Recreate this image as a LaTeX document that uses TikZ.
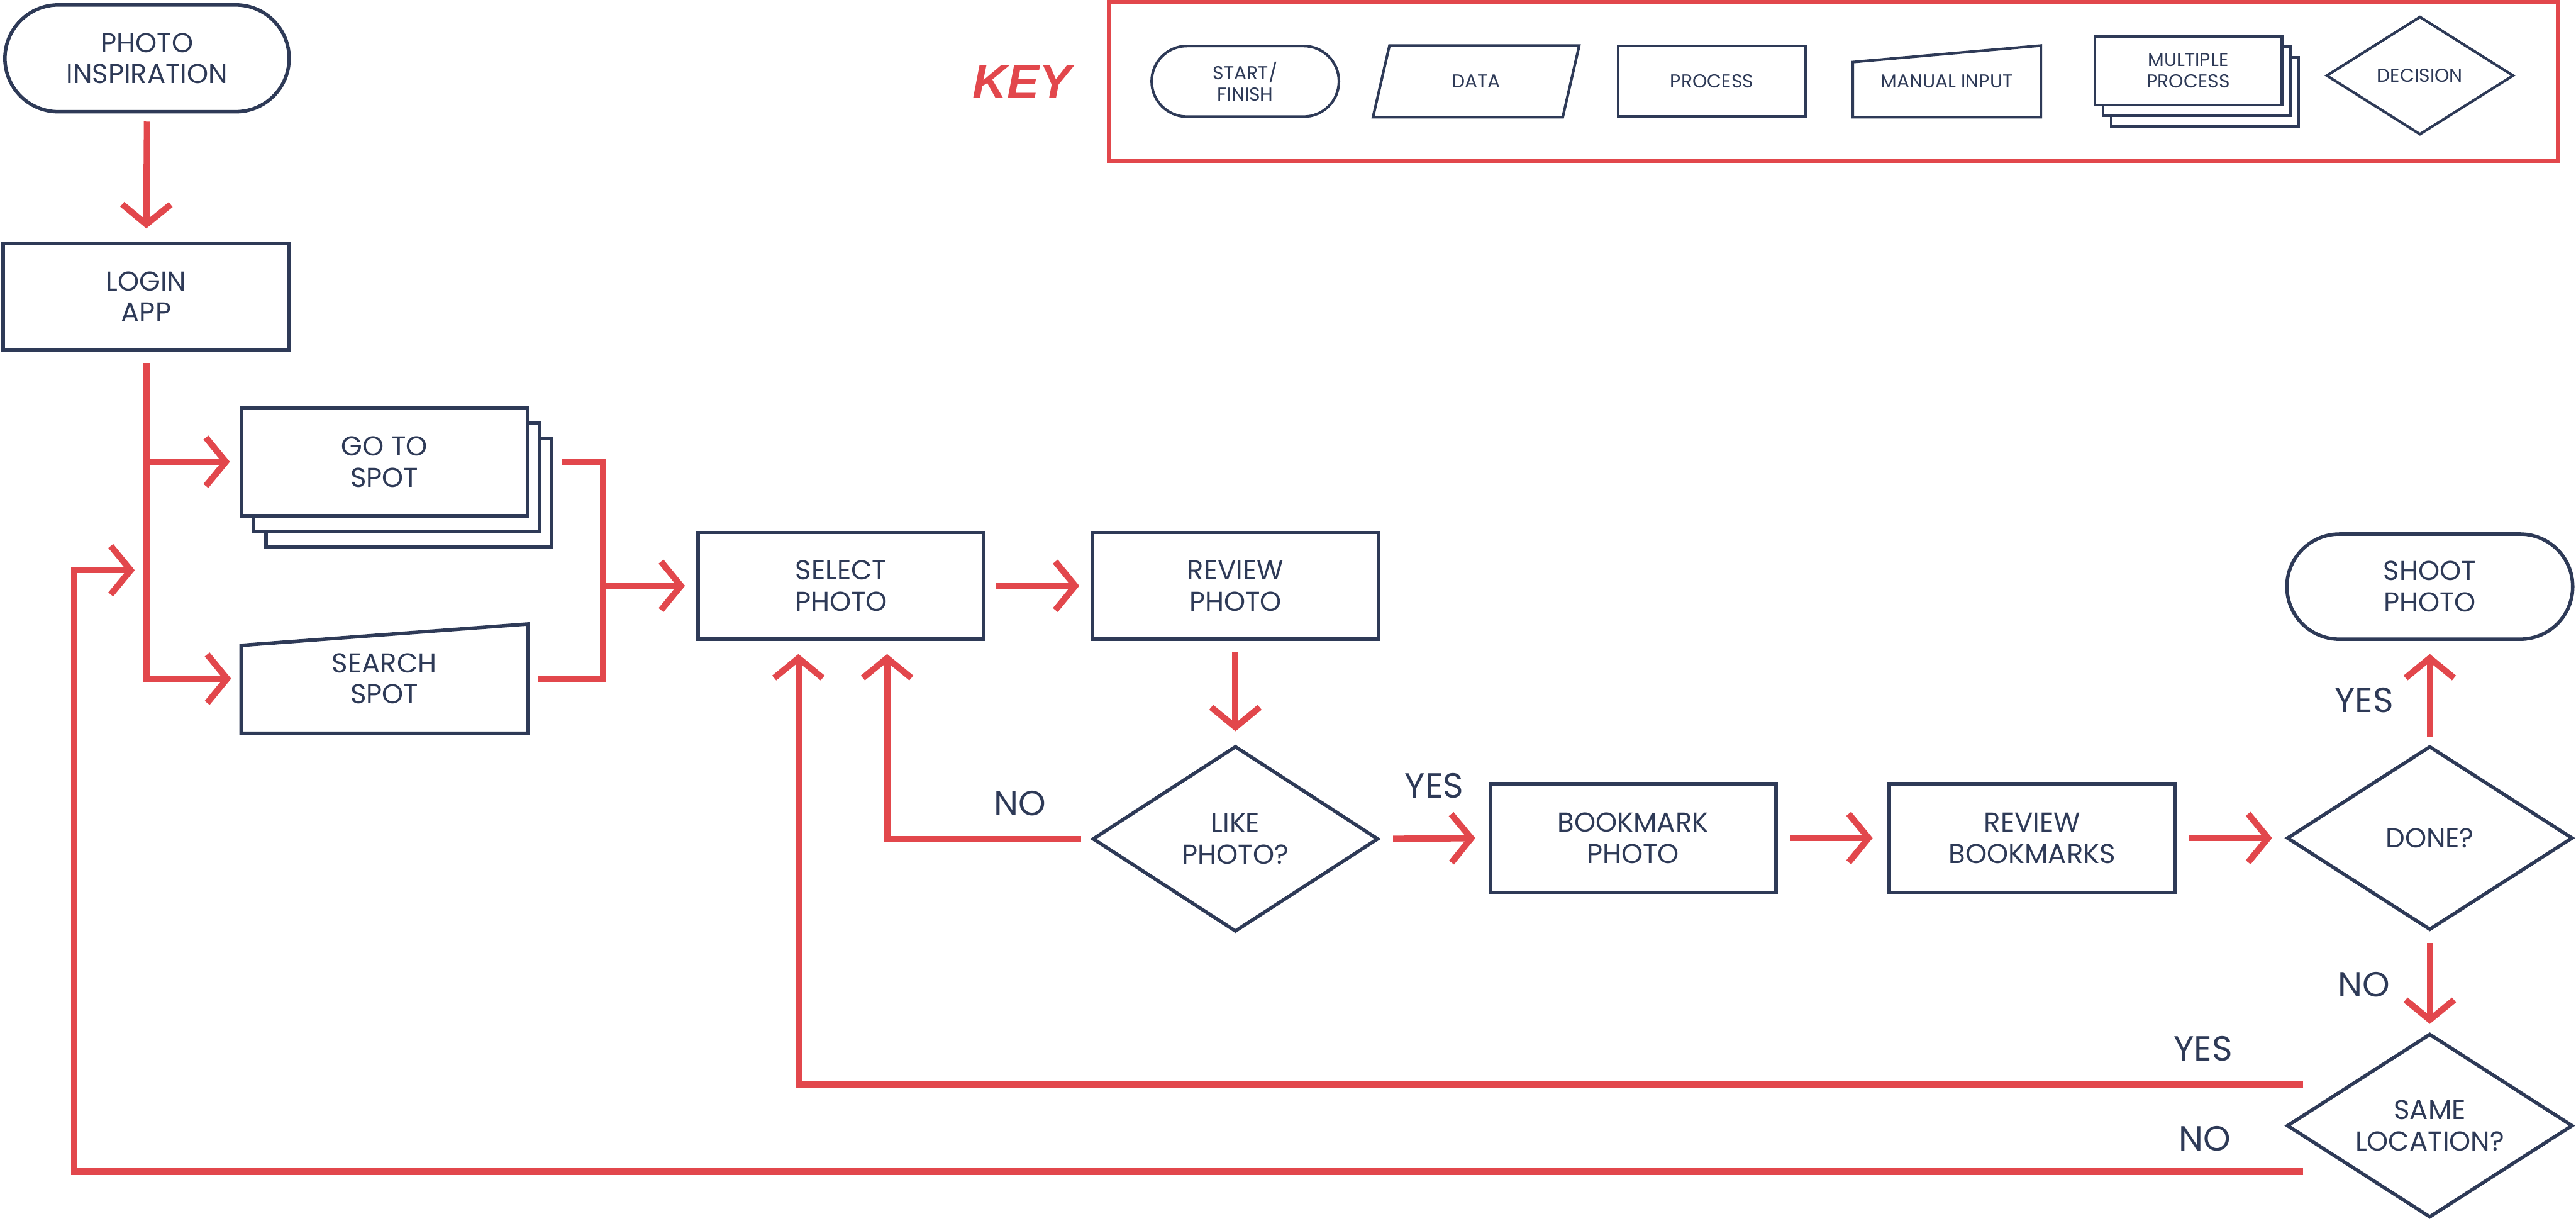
\documentclass[tikz,border=0pt]{standalone}
\usepackage{fontspec}
\setmainfont{Poppins}
\newfontfamily\keyfont{Liberation Sans}
\usetikzlibrary{arrows.meta,shapes.geometric,shapes.misc,shadows,calc}
\definecolor{navy}{HTML}{2E3A57}
\definecolor{fred}{HTML}{E2474C}
\begin{document}
\begin{tikzpicture}[x=0.026454cm,y=-0.026454cm,
  box/.style={draw=navy, line width=1.6pt, fill=white, text=navy, align=center,
    font=\fontsize{12.5}{14.3}\selectfont, minimum width=4.603cm, minimum height=1.72cm, inner sep=0pt},
  proc/.style={box, rectangle},
  term/.style={box, rounded rectangle},
  dec/.style={box, diamond, shape aspect=1.55, minimum height=2.96cm},
  multi/.style={box, rectangle, double copy shadow={shadow xshift=0.198cm, shadow yshift=-0.251cm,
    draw=navy, fill=white, line width=1.6pt}},
  ghost/.style={rectangle, text=navy, align=center, font=\fontsize{12.5}{14.3}\selectfont,
    minimum width=4.603cm, minimum height=1.746cm, inner sep=0pt},
  outline/.style={draw=navy, line width=1.6pt, line join=miter},
  conn/.style={draw=fred, line width=2.9pt, line join=miter},
  arr/.style={conn, -{Straight Barb[length=0.32cm,width=0.78cm]}},
  lbl/.style={text=navy, font=\fontsize{16}{18}\selectfont},
  kshape/.style={draw=navy, line width=1.2pt, fill=white, text=navy, align=center,
    font=\fontsize{8.6}{9.8}\selectfont, minimum width=3.016cm, minimum height=1.138cm, inner sep=0pt},
  kghost/.style={rectangle, text=navy, align=center, font=\fontsize{8.6}{9.8}\selectfont,
    minimum width=3.016cm, minimum height=1.138cm, inner sep=0pt},
  koutline/.style={draw=navy, line width=1.2pt, line join=miter},
]
\fill[white] (0,0) rectangle (1568,743);
\useasboundingbox (0,0) rectangle (1568,743);

% ---------- key ----------
\node[draw=fred, line width=1.8pt, minimum width=23.33cm, minimum height=2.566cm, inner sep=0pt] (keybox) at (1116,49.5) {};
\node[text=fred, font=\keyfont\bfseries\itshape\fontsize{22}{26}\selectfont] (keytitle) at (622,50) {KEY};
\node[kshape, rounded rectangle] (kstart) at (758,49.5) {START/\\FINISH};
\node[kghost, minimum width=3.307cm] (kdata) at (898.5,49.5) {DATA};
\draw[koutline] (kdata.south west) -- ([xshift=-0.265cm]kdata.south east) -- (kdata.north east) -- ([xshift=0.265cm]kdata.north west) -- cycle;
\node[kshape, rectangle] (kproc) at (1042,49.5) {PROCESS};
\node[kghost] (kman) at (1185,49.5) {MANUAL INPUT};
\draw[koutline] (kman.south west) -- (kman.south east) -- (kman.north east) -- ([yshift=-0.265cm]kman.north west) -- cycle;
\node[kshape, rectangle, minimum height=1.111cm, double copy shadow={shadow xshift=0.132cm, shadow yshift=-0.172cm, draw=navy, fill=white, line width=1.2pt}] (kmulti) at (1332,43) {MULTIPLE\\PROCESS};
\node[kshape, diamond, shape aspect=1.6, minimum height=1.905cm] (kdec) at (1473,46) {DECISION};

% ---------- flow nodes ----------
\node[term, minimum width=4.577cm] (insp) at (89.5,35.5) {PHOTO\\INSPIRATION};
\node[proc] (login) at (89,180.5) {LOGIN\\APP};
\node[multi, minimum height=1.746cm] (goto) at (234,281) {GO TO\\SPOT};
\node[ghost] (search) at (234,413) {SEARCH\\SPOT};
\draw[outline] (search.south west) -- (search.south east) -- (search.north east) -- ([yshift=-0.344cm]search.north west) -- cycle;
\node[proc] (select) at (512,356.5) {SELECT\\PHOTO};
\node[proc] (review) at (752,356.5) {REVIEW\\PHOTO};
\node[dec, minimum height=2.989cm] (like) at (752,510.5) {LIKE\\PHOTO?};
\node[proc, minimum height=1.746cm] (bookmark) at (994,510) {BOOKMARK\\PHOTO};
\node[proc, minimum height=1.746cm] (revbm) at (1237,510) {REVIEW\\BOOKMARKS};
\node[dec] (done) at (1479,510) {DONE?};
\node[term, minimum height=1.693cm] (shoot) at (1479,357) {SHOOT\\PHOTO};
\node[dec] (same) at (1479,685) {SAME\\LOCATION?};

% ---------- labels ----------
\node[lbl] (lno1) at (621,489) {NO};
\node[lbl] (lyes1) at (873,478) {YES};
\node[lbl] (lyes2) at (1439,426) {YES};
\node[lbl] (lno2) at (1439,599) {NO};
\node[lbl] (lyes3) at (1341,638) {YES};
\node[lbl] (lno3) at (1342,693) {NO};

% ---------- helper coordinates ----------
\coordinate (merge) at (367,356.5);
\coordinate (loopc) at (45,347);
\coordinate (loopin) at (89,347);
\coordinate (yesout) at ([xshift=0.29cm,yshift=0.66cm]same.west);
\coordinate (noout) at ([xshift=0.29cm,yshift=-0.74cm]same.west);

% ---------- connectors ----------
\draw[arr, shorten <=0.13cm, shorten >=0.21cm] (insp.south) -- (login.north);
\draw[arr, shorten <=0.185cm, shorten >=0.16cm] (login.south) |- (goto.west);
\draw[arr, shorten <=0.185cm, shorten >=0.16cm] (login.south) |- (search.west);
\draw[arr, shorten >=0.185cm] (noout) -| (loopc) -- (loopin);
\draw[conn, shorten <=0.53cm] (goto.east) -| (merge);
\draw[conn, shorten <=0.16cm] (search.east) -| (merge);
\draw[arr, shorten >=0.185cm] (merge) -- (select.west);
\draw[arr, shorten <=0.16cm, shorten >=0.185cm] (select.east) -- (review.west);
\draw[arr, shorten <=0.185cm, shorten >=0.21cm] (review.south) -- (like.north);
\draw[arr, shorten <=0.16cm, shorten >=0.21cm] (like.west) -| ([xshift=0.74cm]select.south);
\draw[arr, shorten <=0.21cm, shorten >=0.21cm] (like.east) -- (bookmark.west);
\draw[arr, shorten <=0.21cm, shorten >=0.24cm] (bookmark.east) -- (revbm.west);
\draw[arr, shorten <=0.185cm, shorten >=0.21cm] (revbm.east) -- (done.west);
\draw[arr, shorten <=0.13cm, shorten >=0.21cm] (done.north) -- (shoot.south);
\draw[arr, shorten <=0.185cm, shorten >=0.13cm] (done.south) -- (same.north);
\draw[arr, shorten >=0.21cm] (yesout) -| ([xshift=-0.688cm]select.south);
\end{tikzpicture}
\end{document}
